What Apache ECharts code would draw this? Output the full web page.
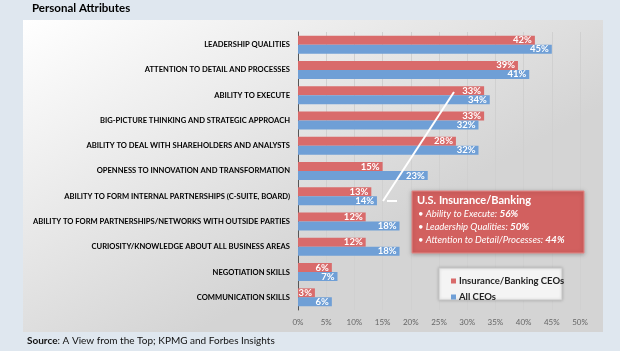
<!DOCTYPE html>
<html><head><meta charset="utf-8">
<script src="https://cdn.jsdelivr.net/npm/echarts@6/dist/echarts.min.js"></script>
<style>html,body{margin:0;padding:0;background:#dfe7ef;}#c{width:620px;height:351px;}</style>
</head><body><div id="c"></div>
<script>
const categories = [
  'LEADERSHIP QUALITIES',
  'ATTENTION TO DETAIL AND PROCESSES',
  'ABILITY TO EXECUTE',
  'BIG-PICTURE THINKING AND STRATEGIC APPROACH',
  'ABILITY TO DEAL WITH SHAREHOLDERS AND ANALYSTS',
  'OPENNESS TO INNOVATION AND TRANSFORMATION',
  'ABILITY TO FORM INTERNAL PARTNERSHIPS (C-SUITE, BOARD)',
  'ABILITY TO FORM PARTNERSHIPS/NETWORKS WITH OUTSIDE PARTIES',
  'CURIOSITY/KNOWLEDGE ABOUT ALL BUSINESS AREAS',
  'NEGOTIATION SKILLS',
  'COMMUNICATION SKILLS'
];
const insuranceBanking = [42, 39, 33, 33, 28, 15, 13, 12, 12, 6, 3];
const allCEOs = [45, 41, 34, 32, 32, 23, 14, 18, 18, 7, 6];
const seriesNames = ['Insurance/Banking CEOs', 'All CEOs'];
const xTicks = [0, 5, 10, 15, 20, 25, 30, 35, 40, 45, 50];

const FONT = 'Lato';
const chart = echarts.init(document.getElementById('c'));
const lbl = {show: true, position: 'insideRight', color: '#fff', fontWeight: 'bold', fontSize: 9.5, fontFamily: FONT, formatter: p => p.value + '%', offset: [2, 0]};
chart.setOption({
  animation: false,
  textStyle: {fontFamily: FONT},
  graphic: [
    {type: 'rect', z: -10, shape: {x: 23, y: 20, width: 580, height: 312},
     style: {fill: new echarts.graphic.LinearGradient(0, 0, 0.3, 1, [{offset: 0, color: '#ffffff'}, {offset: 1, color: '#d4d4d4'}])}},
    {type: 'text', left: 32, top: 2, style: {text: 'Personal Attributes', font: 'bold 11.5px ' + FONT, fill: '#000'}},
    {type: 'text', left: 27, top: 336, style: {rich: {b: {font: 'bold 10px ' + FONT, fill: '#111'}, n: {font: '10px ' + FONT, fill: '#111'}}, text: '{b|Source}{n|: A View from the Top; KPMG and Forbes Insights}'}},
    {type: 'line', z: 50, shape: {x1: 383, y1: 201, x2: 454, y2: 92}, style: {stroke: '#ffffff', lineWidth: 2}},
    {type: 'line', z: 50, shape: {x1: 387, y1: 201, x2: 397, y2: 201}, style: {stroke: '#ffffff', lineWidth: 2}},
    {type: 'rect', z: 50, shape: {x: 412, y: 191, width: 172, height: 62}, style: {fill: '#d2605f', stroke: '#e58886', lineWidth: 1, shadowBlur: 4, shadowColor: 'rgba(0,0,0,0.25)', shadowOffsetY: 1}},
    {type: 'text', z: 51, left: 417, top: 195, style: {text: 'U.S. Insurance/Banking', font: 'bold 11px ' + FONT, fill: '#fff'}},
    {type: 'text', z: 51, left: 418, top: 209, style: {rich: {n: {font: 'italic 9.5px ' + FONT, fill: '#fff'}, b: {font: 'italic bold 10px ' + FONT, fill: '#fff'}}, text: '{n|• Ability to Execute: }{b|56%}'}},
    {type: 'text', z: 51, left: 418, top: 222, style: {rich: {n: {font: 'italic 9.5px ' + FONT, fill: '#fff'}, b: {font: 'italic bold 10px ' + FONT, fill: '#fff'}}, text: '{n|• Leadership Qualities: }{b|50%}'}},
    {type: 'text', z: 51, left: 418, top: 235, style: {rich: {n: {font: 'italic 9.5px ' + FONT, fill: '#fff'}, b: {font: 'italic bold 10px ' + FONT, fill: '#fff'}}, text: '{n|• Attention to Detail/Processes: }{b|44%}'}},
    {type: 'rect', z: 40, shape: {x: 439, y: 268, width: 123, height: 32}, style: {fill: '#f4f4f4', stroke: '#c8c8c8', lineWidth: 1, shadowBlur: 3, shadowColor: 'rgba(0,0,0,0.2)'}}
  ],
  legend: {
    data: seriesNames, orient: 'vertical', left: 446, top: 271, itemWidth: 5, itemHeight: 5, itemGap: 6, z: 60,
    icon: 'rect', textStyle: {fontSize: 9.5, fontWeight: 'bold', color: '#222', fontFamily: FONT, padding: [0, 0, 0, -2]}
  },
  grid: {left: 298, right: 40, top: 32, bottom: 41, containLabel: false},
  xAxis: {
    type: 'value', min: 0, max: 50, interval: 5,
    axisLine: {show: false}, axisTick: {show: false},
    splitLine: {show: true, lineStyle: {color: '#d0d0d0', width: 1}},
    axisLabel: {formatter: v => v + '%', fontSize: 8, color: '#666', margin: 8, fontFamily: FONT}
  },
  yAxis: {
    type: 'category', data: categories, inverse: true,
    axisLine: {show: true, lineStyle: {color: '#555', width: 1}}, axisTick: {show: false},
    axisLabel: {fontSize: 7.6, fontWeight: 'bold', color: '#000', margin: 8, fontFamily: FONT}
  },
  series: [
    {name: seriesNames[0], type: 'bar', data: insuranceBanking, barWidth: 9, barGap: '0%', itemStyle: {color: '#d96b6b'}, label: lbl},
    {name: seriesNames[1], type: 'bar', data: allCEOs, barWidth: 9, barGap: '0%', itemStyle: {color: '#6f9fd6'}, label: lbl}
  ]
});
</script></body></html>
